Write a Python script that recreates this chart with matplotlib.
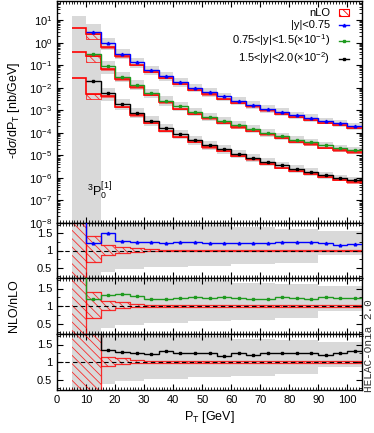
#!/usr/bin/env python3
import numpy as np
import matplotlib
matplotlib.use("Agg")
import matplotlib.pyplot as plt
from matplotlib.lines import Line2D
from matplotlib.patches import Patch
from matplotlib.ticker import MultipleLocator, LogLocator, FixedLocator, NullFormatter

plt.rcParams["font.family"] = ["Liberation Sans", "DejaVu Sans"]
plt.rcParams["mathtext.fontset"] = "custom"
plt.rcParams["mathtext.rm"] = "Liberation Sans"
plt.rcParams["mathtext.it"] = "Liberation Sans:italic"
plt.rcParams["mathtext.sf"] = "Liberation Sans"
plt.rcParams["hatch.color"] = "red"
plt.rcParams["hatch.linewidth"] = 0.6

# bin edges in P_T [GeV]: 5,10,...,105
PT_EDGES = np.arange(5, 110, 5)

# NLO d(sigma)/dPT for bins 10-15 ... 100-105 (already scaled as in the legend)
NLO_Y1 = [3.0, 0.97, 0.33, 0.135, 0.062, 0.034, 0.018, 0.010, 0.0063, 0.0041,
          0.0027, 0.0018, 0.0012, 8.7e-4, 6.3e-4, 4.7e-4, 3.5e-4, 2.7e-4, 2.0e-4]
NLO_Y2 = [0.30, 0.091, 0.0316, 0.0135, 0.0059, 0.0027, 0.00149, 8.7e-4, 5.3e-4, 3.5e-4,
          2.2e-4, 1.47e-4, 1.03e-4, 7.4e-5, 5.0e-5, 3.8e-5, 2.8e-5, 2.1e-5, 1.7e-5]
NLO_Y3 = [0.019, 0.0057, 0.0019, 7.6e-4, 3.5e-4, 1.6e-4, 8.7e-5, 4.9e-5, 2.9e-5, 1.85e-5,
          1.2e-5, 7.9e-6, 5.2e-6, 3.6e-6, 2.6e-6, 1.9e-6, 1.33e-6, 1.0e-6, 8.3e-7]

# NLO/nLO ratio: y1, y2 for bins 10-15..100-105, y3 for bins 15-20..100-105
RATIO_Y1 = [1.21, 1.50, 1.29, 1.26, 1.25, 1.21, 1.24, 1.245, 1.23, 1.23,
            1.22, 1.21, 1.22, 1.24, 1.26, 1.24, 1.23, 1.16, 1.20]
RATIO_Y2 = [1.21, 1.32, 1.35, 1.29, 1.21, 1.21, 1.24, 1.26, 1.22, 1.26,
            1.23, 1.21, 1.19, 1.26, 1.23, 1.21, 1.26, 1.23, 1.24]
RATIO_Y3 = [1.33, 1.29, 1.26, 1.23, 1.31, 1.27, 1.25, 1.27, 1.17, 1.27,
            1.20, 1.25, 1.25, 1.25, 1.25, 1.20, 1.25, 1.31]

# nLO in the first bin (5-10), and for y3 also in 10-15
NLO_LO_FIRST = [4.7, 0.39, 0.027]
NLO_LO_Y3_BIN2 = 0.0054
RATIO_OFFSCALE = 10.0  # 5-10 bin ratio is above the panel

# nLO scale band relative to nLO, bins 10-15..100-105
LO_BAND_HI = [1.41, 1.15, 1.11, 1.07, 1.03, 1.02, 1.02, 1.02, 1.02, 1.02,
              1.02, 1.02, 1.02, 1.02, 1.02, 1.02, 1.02, 1.02, 1.02]
LO_BAND_LO = [0.67, 0.88, 0.94, 0.97, 0.98, 0.98, 0.98, 0.98, 0.98, 0.98,
              0.98, 0.98, 0.98, 0.98, 0.98, 0.98, 0.98, 0.98, 0.98]
# nLO band drawn in the main panel (relative to nLO)
MAIN_LO_DN = [0.56, 0.80, 0.84, 0.86, 0.87, 0.87, 0.87, 0.87, 0.87, 0.87,
              0.87, 0.87, 0.87, 0.87, 0.87, 0.87, 0.87, 0.87, 0.87]

# NLO scale band divided by nLO, bins 15-20..100-105
NLO_BAND_UP = [2.3, 2.1, 1.95, 1.81, 1.81, 1.81, 1.74, 1.74, 1.74, 1.67,
               1.67, 1.67, 1.62, 1.62, 1.62, 1.57, 1.57, 1.57]
NLO_BAND_DN = [0.37, 0.46, 0.46, 0.52, 0.52, 0.52, 0.56, 0.56, 0.56, 0.60,
               0.60, 0.60, 0.65, 0.65, 0.65, 0.86, 0.86, 0.86]
# NLO band in main panel, relative to NLO, bins 15-20..100-105
MAIN_NLO_UP = [1.7, 1.65, 1.6, 1.55, 1.55, 1.55, 1.5, 1.5, 1.5, 1.45,
               1.45, 1.45, 1.4, 1.4, 1.4, 1.35, 1.35, 1.35]
MAIN_NLO_DN = [0.47, 0.55, 0.58, 0.6, 0.6, 0.6, 0.62, 0.62, 0.62, 0.64,
               0.64, 0.64, 0.66, 0.66, 0.66, 0.7, 0.7, 0.7]
# grey columns for 5-10 and 10-15 (top only, they reach the bottom)
LOWPT_GREY_TOP = [15.0, 7.1]

LABELS = ["|y|<0.75",
          r"0.75<|y|<1.5($\times$10$^{-1}$)",
          r"1.5<|y|<2.0($\times$10$^{-2}$)"]
COLORS = ["#0000ff", "#1f9a1f", "#000000"]
MARKERS = ["^", "s", "s"]
GREY = "#d9d9d9"
RED = "#ff0000"
HATCH = "\\\\\\\\"


def stair_fill(ax, edges, lo, hi, **kw):
    lo = np.append(lo, lo[-1])
    hi = np.append(hi, hi[-1])
    ax.fill_between(edges, lo, hi, step="post", **kw)


def style_axis(ax):
    ax.set_xlim(0, 105)
    ax.xaxis.set_major_locator(MultipleLocator(10))
    ax.xaxis.set_minor_locator(MultipleLocator(1))
    ax.tick_params(which="both", direction="in", top=True, right=True, labelsize=8)
    ax.tick_params(which="major", length=4, width=0.8)
    ax.tick_params(which="minor", length=2, width=0.6)
    for s in ax.spines.values():
        s.set_linewidth(1.0)


fig = plt.figure(figsize=(3.74, 4.33), dpi=100)
L, W = 57 / 374, 305 / 374
ax = fig.add_axes([L, 210 / 433, W, 222 / 433])
r1 = fig.add_axes([L, 155 / 433, W, 55 / 433])
r2 = fig.add_axes([L, 99 / 433, W, 56 / 433])
r3 = fig.add_axes([L, 43 / 433, W, 56 / 433])
rax = [r1, r2, r3]

nlo_all = [np.array(NLO_Y1), np.array(NLO_Y2), np.array(NLO_Y3)]
ratio_all = [np.array(RATIO_Y1), np.array(RATIO_Y2), np.array(RATIO_Y3)]

edges_10 = PT_EDGES[1:]
edges_15 = PT_EDGES[2:]
centers_10 = 0.5 * (edges_10[:-1] + edges_10[1:])
centers_15 = 0.5 * (edges_15[:-1] + edges_15[1:])
MS = 1.9

# ---------------- main panel ----------------
# low-pT grey columns
stair_fill(ax, PT_EDGES[:3], np.full(2, 1e-12), np.array(LOWPT_GREY_TOP),
           color=GREY, lw=0, zorder=1)

for i in range(3):
    nlo = nlo_all[i]
    rat = ratio_all[i]
    if i < 2:
        lo_central = np.concatenate([[NLO_LO_FIRST[i]], nlo / rat])
    else:
        lo_central = np.concatenate([[NLO_LO_FIRST[i], NLO_LO_Y3_BIN2], nlo[1:] / rat])
    # NLO grey band from 15 GeV
    stair_fill(ax, edges_15, nlo[1:] * np.array(MAIN_NLO_DN), nlo[1:] * np.array(MAIN_NLO_UP),
               color=GREY, lw=0, zorder=1)
    # nLO band from 10 GeV
    lo10 = lo_central[1:]
    stair_fill(ax, edges_10[:2], lo10[:1] * MAIN_LO_DN[0], lo10[:1],
               facecolor="none", edgecolor=RED, hatch=HATCH, lw=0.6, alpha=0.8, zorder=2)
    stair_fill(ax, edges_15, lo10[1:] * np.array(MAIN_LO_DN[1:]), lo10[1:],
               color=RED, alpha=0.5, lw=0, zorder=2)
    ax.stairs(lo_central, PT_EDGES, baseline=None, color=RED, lw=1.2, zorder=3)
    ax.stairs(nlo, edges_10, baseline=None, color=COLORS[i], lw=1.0, zorder=4)
    ax.plot(centers_10, nlo, ls="none", marker=MARKERS[i], ms=MS, color=COLORS[i], zorder=5)

ax.set_yscale("log")
ax.set_ylim(1e-8, 10 ** 1.85)
style_axis(ax)
ax.yaxis.set_major_locator(LogLocator(base=10, numticks=20))
ax.yaxis.set_minor_locator(LogLocator(base=10, subs=np.arange(2, 10), numticks=20))
ax.yaxis.set_minor_formatter(NullFormatter())
ax.tick_params(labelbottom=False)
ax.text(10.3, 10 ** -6.6, r"$^{3}\mathrm{P}_{0}^{[1]}$", fontsize=9, ha="left", va="center")

handles = [Patch(facecolor="none", edgecolor=RED, hatch=HATCH, lw=0.8)]
for c, m in zip(COLORS, MARKERS):
    handles.append(Line2D([], [], color=c, lw=1.0, marker=m, ms=MS))
leg = ax.legend(handles, ["nLO"] + LABELS, loc="upper right", bbox_to_anchor=(0.958, 0.968),
                frameon=False, markerfirst=False, fontsize=8, handlelength=0.9,
                handleheight=0.6, handletextpad=0.8, labelspacing=0.2, borderpad=0,
                borderaxespad=0)

# ---------------- ratio panels ----------------
lo_hi = np.array(LO_BAND_HI)
lo_lo = np.array(LO_BAND_LO)
for i, r in enumerate(rax):
    rat = ratio_all[i]
    # grey: full height for the low-pT bins, band afterwards
    stair_fill(r, PT_EDGES[:3], np.full(2, -5.0), np.full(2, 5.0), color=GREY, lw=0, zorder=1)
    stair_fill(r, edges_15, np.array(NLO_BAND_DN), np.array(NLO_BAND_UP), color=GREY, lw=0, zorder=1)
    if i < 2:
        # fully uncertain 5-10 bin, then the boxes from 10 GeV
        stair_fill(r, PT_EDGES[:2], np.full(1, -5.0), np.full(1, 5.0),
                   facecolor="none", edgecolor=RED, hatch=HATCH, lw=0, alpha=0.8, zorder=2)
        stair_fill(r, edges_10, lo_lo, lo_hi, facecolor="none", edgecolor=RED,
                   hatch=HATCH, lw=0.9, alpha=0.8, zorder=2)
        r.plot([10, 10], [-5, 5], color=RED, lw=0.9, alpha=0.8, zorder=2)
        r.stairs(np.concatenate([[RATIO_OFFSCALE], rat]), PT_EDGES, baseline=None,
                 color=COLORS[i], lw=1.0, zorder=4)
        r.plot(centers_10, rat, ls="none", marker=MARKERS[i], ms=MS, color=COLORS[i], zorder=5)
    else:
        stair_fill(r, PT_EDGES[:3], np.full(2, -5.0), np.full(2, 5.0),
                   facecolor="none", edgecolor=RED, hatch=HATCH, lw=0, alpha=0.8, zorder=2)
        stair_fill(r, edges_15, lo_lo[1:], lo_hi[1:], facecolor="none", edgecolor=RED,
                   hatch=HATCH, lw=0.9, alpha=0.8, zorder=2)
        r.plot([15, 15], [-5, 5], color=RED, lw=0.9, alpha=0.8, zorder=2)
        first = nlo_all[2][0] / NLO_LO_Y3_BIN2
        r.stairs(np.concatenate([[first], rat]), edges_10, baseline=None,
                 color=COLORS[i], lw=1.0, zorder=4)
        r.plot(centers_15, rat, ls="none", marker=MARKERS[i], ms=MS, color=COLORS[i], zorder=5)
    r.axhline(1.0, color="black", lw=0.8, ls=(0, (4, 3)), zorder=6)
    r.set_ylim(0.2, 1.8)
    style_axis(r)
    r.yaxis.set_major_locator(FixedLocator([0.5, 1.0, 1.5]))
    r.yaxis.set_minor_locator(MultipleLocator(0.25))
    r.set_yticklabels(["0.5", "1", "1.5"])
    if i < 2:
        r.tick_params(labelbottom=False)

r3.set_xlabel(r"P$_{\mathrm{T}}$ [GeV]", fontsize=9, labelpad=3)
fig.text(14 / 374, 1 - 110 / 433, r"-d$\sigma$/dP$_{\mathrm{T}}$ [nb/GeV]", rotation=90,
         ha="center", va="center", fontsize=9)
fig.text(14 / 374, 1 - 306 / 433, "NLO/nLO", rotation=90, ha="center", va="center", fontsize=9)
fig.text(369 / 374, 1 - 346 / 433, "HELAC-Onia 2.0", rotation=90, ha="center", va="center",
         fontsize=8, family=["Liberation Mono", "DejaVu Sans Mono"], color="#333333")

fig.savefig("out.png", dpi=100)
